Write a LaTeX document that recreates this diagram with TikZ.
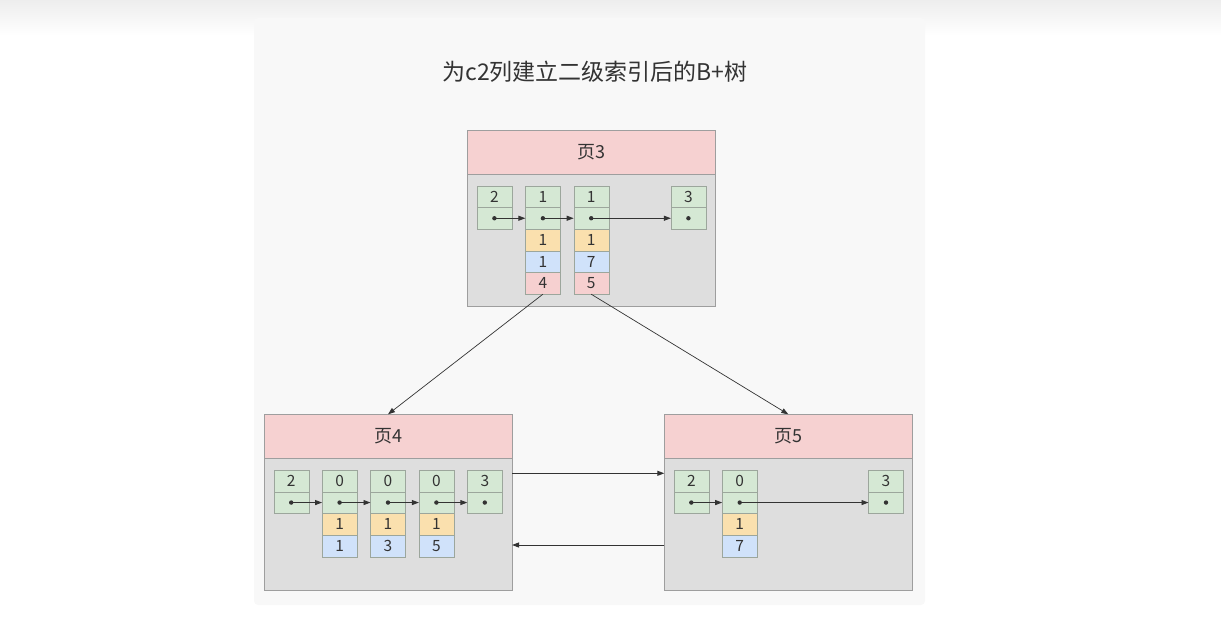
\documentclass[tikz,border=0pt]{standalone}
\usepackage{fontspec}
\setmainfont{Noto Sans CJK SC}
\usetikzlibrary{positioning,arrows.meta}

\definecolor{panelbg}{HTML}{F8F8F8}
\definecolor{headfill}{HTML}{F6D1D1}
\definecolor{bodyfill}{HTML}{DEDEDE}
\definecolor{pageline}{HTML}{9E9E9E}
\definecolor{cellline}{HTML}{9CA69C}
\definecolor{typfill}{HTML}{D5E8D4}
\definecolor{cvfill}{HTML}{FAE0AE}
\definecolor{pkfill}{HTML}{D0E2FA}
\definecolor{pgfill}{HTML}{F6D0D0}
\definecolor{txt}{HTML}{333333}

\tikzset{
	head/.style={draw=pageline, fill=headfill, minimum width=248pt, minimum height=44pt, outer sep=0pt, text=txt, font=\fontsize{18}{20}\selectfont},
	body/.style={draw=pageline, fill=bodyfill, minimum width=248pt, minimum height=131.7pt, outer sep=0pt},
	cell/.style={draw=cellline, minimum width=35pt, minimum height=21.7pt, inner sep=0pt, outer sep=0pt, text=txt, font=\fontsize{15.5}{16}\selectfont},
	typ/.style={cell, fill=typfill},
	cv/.style={cell, fill=cvfill},
	pk/.style={cell, fill=pkfill},
	pg/.style={cell, fill=pgfill},
	link/.style={draw=txt, line width=0.9pt, -{Triangle[length=7pt,width=5pt]}},
}

\begin{document}
\begin{tikzpicture}[x=1pt,y=-1pt]
	\useasboundingbox (0,0) rectangle (1221,616);
	\shade[top color=black!7, bottom color=white] (0,0) rectangle (1221,36);
	\fill[panelbg, rounded corners=4pt] (254,18) rectangle (925,605);
	\node[text=txt, font=\fontsize{23}{25}\selectfont] (title) at (595,72) {为c2列建立二级索引后的B+树};

	%% page 3
	\node[head] (p3h) at (591.2,152) {页3};
	\node[body, below=0pt of p3h] (p3b) {};
	\node[typ, below right=11.7pt and 9.7pt of p3b.north west] (k31) {2};
	\node[typ, below=0pt of k31] (p31) {};
	\node[typ, right=13.5pt of k31] (k32) {1};
	\node[typ, below=0pt of k32] (p32) {};
	\node[cv, below=0pt of p32] (y32) {1};
	\node[pk, below=0pt of y32] (b32) {1};
	\node[pg, below=0pt of b32] (r32) {4};
	\node[typ, right=13.3pt of k32] (k33) {1};
	\node[typ, below=0pt of k33] (p33) {};
	\node[cv, below=0pt of p33] (y33) {1};
	\node[pk, below=0pt of y33] (b33) {7};
	\node[pg, below=0pt of b33] (r33) {5};
	\node[typ, below left=11.7pt and 9.3pt of p3b.north east] (k34) {3};
	\node[typ, below=0pt of k34] (p34) {};

	%% page 4
	\node[head] (p4h) at (388,436.3) {页4};
	\node[body, below=0pt of p4h] (p4b) {};
	\node[typ, below right=11.7pt and 9.7pt of p4b.north west] (k41) {2};
	\node[typ, below=0pt of k41] (p41) {};
	\node[typ, right=13.4pt of k41] (k42) {0};
	\node[typ, below=0pt of k42] (p42) {};
	\node[cv, below=0pt of p42] (y42) {1};
	\node[pk, below=0pt of y42] (b42) {1};
	\node[typ, right=13.4pt of k42] (k43) {0};
	\node[typ, below=0pt of k43] (p43) {};
	\node[cv, below=0pt of p43] (y43) {1};
	\node[pk, below=0pt of y43] (b43) {3};
	\node[typ, right=13.4pt of k43] (k44) {0};
	\node[typ, below=0pt of k44] (p44) {};
	\node[cv, below=0pt of p44] (y44) {1};
	\node[pk, below=0pt of y44] (b44) {5};
	\node[typ, right=13.4pt of k44] (k45) {3};
	\node[typ, below=0pt of k45] (p45) {};

	%% page 5
	\node[head] (p5h) at (788.3,436.3) {页5};
	\node[body, below=0pt of p5h] (p5b) {};
	\node[typ, below right=11.7pt and 9.5pt of p5b.north west] (k51) {2};
	\node[typ, below=0pt of k51] (p51) {};
	\node[typ, right=13.4pt of k51] (k52) {0};
	\node[typ, below=0pt of k52] (p52) {};
	\node[cv, below=0pt of p52] (y52) {1};
	\node[pk, below=0pt of y52] (b52) {7};
	\node[typ, below left=11.7pt and 8.8pt of p5b.north east] (k53) {3};
	\node[typ, below=0pt of k53] (p53) {};

	% 记录里的指针
	\fill[txt] (p31) circle (2.2pt) (p32) circle (2.2pt) (p33) circle (2.2pt) (p34) circle (2.2pt);
	\fill[txt] (p41) circle (2.2pt) (p42) circle (2.2pt) (p43) circle (2.2pt) (p44) circle (2.2pt) (p45) circle (2.2pt);
	\fill[txt] (p51) circle (2.2pt) (p52) circle (2.2pt) (p53) circle (2.2pt);
	\draw[link] (p31.center) -- (p32.west);
	\draw[link] (p32.center) -- (p33.west);
	\draw[link] (p33.center) -- (p34.west);
	\draw[link] (p41.center) -- (p42.west);
	\draw[link] (p42.center) -- (p43.west);
	\draw[link] (p43.center) -- (p44.west);
	\draw[link] (p44.center) -- (p45.west);
	\draw[link] (p51.center) -- (p52.west);
	\draw[link] (p52.center) -- (p53.west);

	% 页之间的连线
	\draw[link, line width=0.7pt] (r32.south) -- (p4h.north);
	\draw[link, line width=0.7pt] (r33.south) -- (p5h.north);
	\draw[link] ([yshift=-15pt]p4b.north east) -- ([yshift=-15pt]p5b.north west);
	\draw[link] ([yshift=45pt]p5b.south west) -- ([yshift=45pt]p4b.south east);
\end{tikzpicture}
\end{document}
